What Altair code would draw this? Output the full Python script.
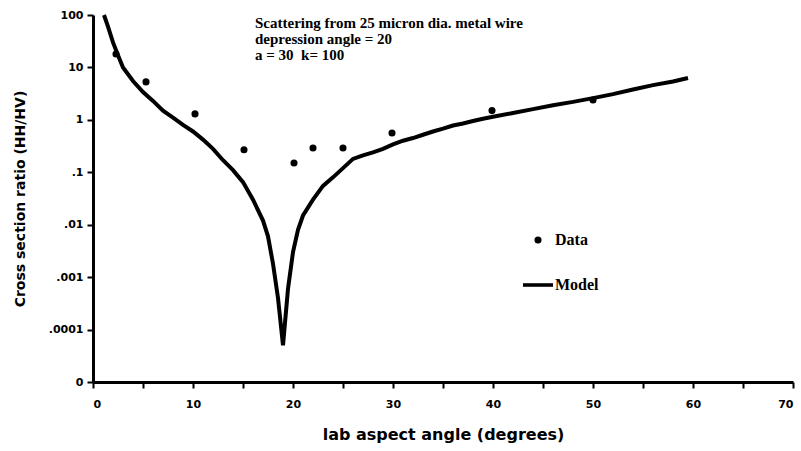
import altair as alt
import pandas as pd

# Measured data points
data_angle = [2.3, 5.3, 10.2, 15.1, 20.1, 22.0, 25.0, 29.9, 39.9, 50.0]
data_ratio = [18, 5.3, 1.3, 0.27, 0.15, 0.29, 0.29, 0.56, 1.5, 2.4]

# Model curve
model_angle = [1.1, 1.5, 2, 2.5, 3, 4, 5, 6, 7, 8, 9, 10, 11, 12, 13, 14, 15, 16, 17,
               17.5, 18, 18.5, 19, 19.5, 20, 20.5, 21, 22, 23, 24, 25, 26, 27, 28, 29,
               30, 31, 32, 33, 34, 35, 36, 37, 38, 39, 40, 42, 44, 46, 48, 50, 52, 54,
               56, 58, 59.5]
model_ratio = [100, 60, 30, 17, 10, 5.5, 3.4, 2.3, 1.5, 1.1, 0.8, 0.6, 0.42, 0.28, 0.17,
               0.11, 0.065, 0.03, 0.012, 0.006, 0.0018, 0.0004, 0.00005, 0.0006, 0.003,
               0.008, 0.015, 0.03, 0.055, 0.08, 0.12, 0.18, 0.21, 0.24, 0.28, 0.34, 0.4,
               0.45, 0.52, 0.6, 0.68, 0.78, 0.85, 0.95, 1.05, 1.15, 1.35, 1.6, 1.9, 2.2,
               2.6, 3.1, 3.8, 4.6, 5.4, 6.3]

y_ticks = [1e-5, 1e-4, 1e-3, 1e-2, 1e-1, 1, 10, 100]
y_labels = ["0", ".0001", ".001", ".01", ".1", "1", "10", "100"]
x_ticks = list(range(0, 75, 5))

annotation = ["Scattering from 25 micron dia. metal wire",
              "depression angle = 20",
              "a = 30\u00a0\u00a0k= 100"]

series = ["Data", "Model"]

df_data = pd.DataFrame({"angle": data_angle, "ratio": data_ratio, "series": "Data"})
df_model = pd.DataFrame({"angle": model_angle, "ratio": model_ratio, "series": "Model"})

y_label_expr = "[" + ",".join("'%s'" % s for s in y_labels) + "][round(log(datum.value)/log(10))+5]"
x_label_expr = "datum.value % 10 == 0 ? format(datum.value, 'd') : ''"

xscale = alt.Scale(domain=[0, 70], nice=False, zero=False)
yscale = alt.Scale(type="log", domain=[1e-5, 100], nice=False)

xaxis = alt.Axis(values=x_ticks, labelExpr=x_label_expr, title="lab aspect angle (degrees)",
                 grid=False, domainWidth=3, tickWidth=2, tickSize=6, labelPadding=10,
                 titlePadding=17, titleFontSize=16)
yaxis = alt.Axis(values=y_ticks, labelExpr=y_label_expr, title="Cross section ratio (HH/HV)",
                 grid=False, domainWidth=3, tickWidth=2, tickSize=6, labelPadding=4,
                 titlePadding=21, titleFontSize=14)

line = alt.Chart(df_model).mark_line(color="black", strokeWidth=4).encode(
    x=alt.X("angle:Q", scale=xscale, axis=xaxis),
    y=alt.Y("ratio:Q", scale=yscale, axis=yaxis),
)

leg = alt.Legend(title=None, orient="none", legendX=430, legendY=217)
points = alt.Chart(df_data).mark_point(filled=True, color="black", opacity=1).encode(
    x=alt.X("angle:Q", scale=xscale),
    y=alt.Y("ratio:Q", scale=yscale),
    shape=alt.Shape("series:N",
                    scale=alt.Scale(domain=series,
                                    range=["circle", "M-1,-0.12H1V0.12H-1Z"]),
                    legend=leg),
    size=alt.Size("series:N", scale=alt.Scale(domain=series, range=[50, 900]),
                  legend=leg),
)

text = alt.Chart(pd.DataFrame({"t": [0]})).mark_text(
    align="left", baseline="top", font="Liberation Serif", fontWeight="bold",
    fontSize=15, lineHeight=16, color="black"
).encode(x=alt.value(162), y=alt.value(1), text=alt.value(annotation))

chart = alt.layer(line, points, text).properties(
    width=700, height=367,
    autosize=alt.AutoSizeParams(type="none"),
    padding={"left": 93, "top": 15, "right": 8, "bottom": 69},
).configure_view(stroke=None).configure_axis(
    domainColor="black", tickColor="black", labelColor="black", titleColor="black",
    labelFont="DejaVu Sans", labelFontWeight="bold", labelFontSize=11,
    titleFont="DejaVu Sans", titleFontWeight="bold",
).configure_legend(
    labelFont="Liberation Serif", labelFontWeight="bold", labelFontSize=16,
    labelColor="black", symbolFillColor="black", symbolStrokeColor="black",
    symbolStrokeWidth=0, labelOffset=2, rowPadding=22, padding=0,
)

chart.save("out.html", embed_options={"renderer": "svg", "actions": False})
